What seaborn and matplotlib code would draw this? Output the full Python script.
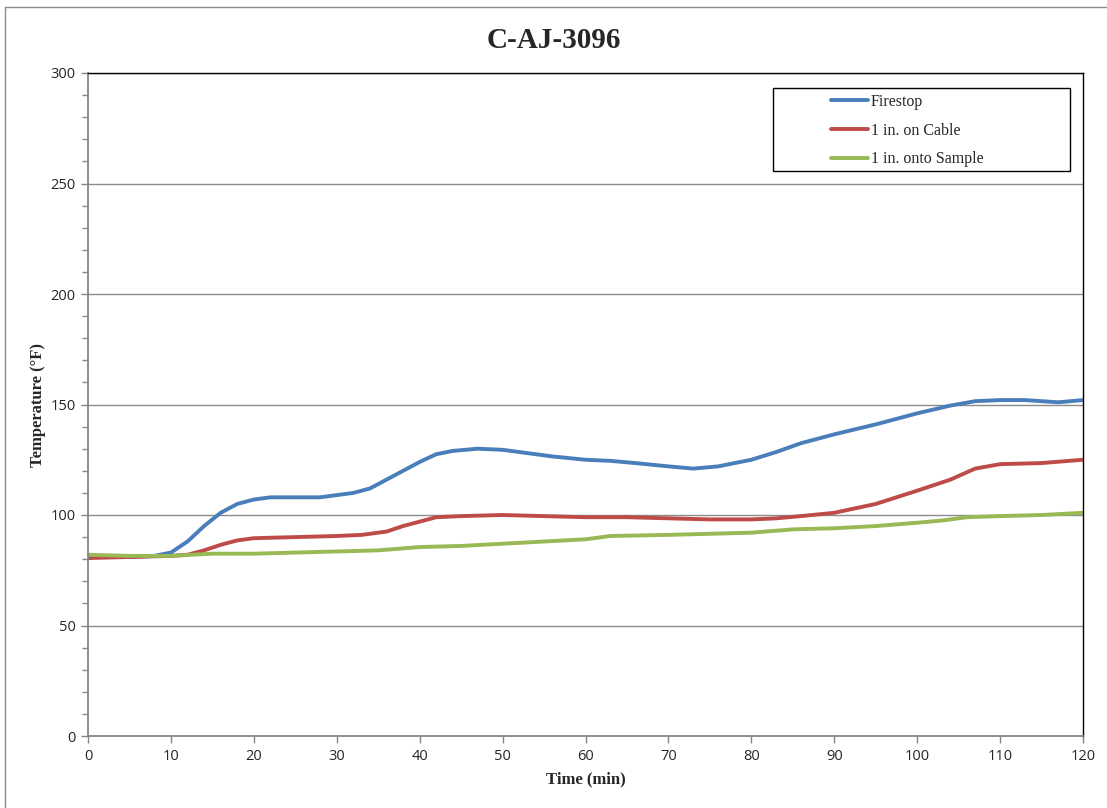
import matplotlib
matplotlib.use('Agg')
import matplotlib.pyplot as plt
import seaborn as sns
import pandas as pd
from matplotlib.ticker import MultipleLocator
from matplotlib.lines import Line2D
from matplotlib.patches import Rectangle

# readings taken off the chart
t_fire = [0, 5, 8, 10, 12, 14, 16, 18, 20, 22, 25, 28, 30, 32, 34, 36, 38, 40, 42, 44, 47, 50, 53, 56, 60,
          63, 66, 70, 73, 76, 80, 83, 86, 90, 95, 100, 104, 107, 110, 113, 117, 120]
firestop = [81, 81, 81.5, 83, 88, 95, 101, 105, 107, 108, 108, 108, 109, 110, 112, 116, 120, 124, 127.5, 129,
            130, 129.5, 128, 126.5, 125, 124.5, 123.5, 122, 121, 122, 125, 128.5, 132.5, 136.5, 141, 146,
            149.5, 151.5, 152, 152, 151, 152]

t_cable = [0, 5, 10, 12, 14, 16, 18, 20, 25, 30, 33, 36, 38, 40, 42, 45, 50, 55, 60, 65, 70, 75, 80, 83, 86,
           90, 95, 100, 104, 107, 110, 115, 120]
cable = [80.5, 81, 81.5, 82, 84, 86.5, 88.5, 89.5, 90, 90.5, 91, 92.5, 95, 97, 99, 99.5, 100, 99.5, 99, 99,
         98.5, 98, 98, 98.5, 99.5, 101, 105, 111, 116, 121, 123, 123.5, 125]

t_sample = [0, 5, 10, 15, 20, 30, 35, 40, 45, 50, 55, 60, 63, 70, 80, 85, 90, 95, 100, 103, 106, 110, 115, 120]
sample = [82, 81.5, 81.5, 82.5, 82.5, 83.5, 84, 85.5, 86, 87, 88, 89, 90.5, 91, 92, 93.5, 94, 95, 96.5, 97.5,
          99, 99.5, 100, 101]

labels = ['Firestop', '1 in. on Cable', '1 in. onto Sample']
colors = ['#4a7ebb', '#be4b48', '#98b954']

df = pd.concat([
    pd.DataFrame({'time': t_fire, 'temp': firestop, 'series': labels[0]}),
    pd.DataFrame({'time': t_cable, 'temp': cable, 'series': labels[1]}),
    pd.DataFrame({'time': t_sample, 'temp': sample, 'series': labels[2]}),
])

sns.set_style('white')
serif = ['Liberation Serif', 'DejaVu Serif']
sans = ['Open Sans', 'DejaVu Sans']

W, H = 1107, 808
fig = plt.figure(figsize=(W/100, H/100), dpi=100)
ax = fig.add_axes([88/W, 1 - 736/H, (1083 - 88)/W, (736 - 73)/H])

sns.lineplot(data=df, x='time', y='temp', hue='series', palette=colors, hue_order=labels,
             linewidth=2.8, ax=ax, legend=False, sort=True)

ax.set_xlim(0, 120)
ax.set_ylim(0, 300)
ax.xaxis.set_major_locator(MultipleLocator(10))
ax.yaxis.set_major_locator(MultipleLocator(50))
ax.yaxis.set_minor_locator(MultipleLocator(10))
ax.grid(axis='y', which='major', color='#8c8c8c', linewidth=1)
ax.set_axisbelow(True)

for s in ['left', 'bottom']:
    ax.spines[s].set_color('#868686')
    ax.spines[s].set_linewidth(1.3)
for s in ['top', 'right']:
    ax.spines[s].set_color('black')
    ax.spines[s].set_linewidth(1)

ax.tick_params(axis='both', which='major', direction='out', length=5, width=1, color='#868686',
               labelsize=10.5, pad=4, left=True, bottom=True)
ax.tick_params(axis='y', which='minor', direction='out', length=4, width=1, color='#868686', left=True)
for lab in ax.get_xticklabels() + ax.get_yticklabels():
    lab.set_family(sans)

ax.set_xlabel('Time (min)', family=serif, fontsize=12, fontweight='bold', labelpad=6)
ax.set_ylabel('Temperature (°F)', family=serif, fontsize=12, fontweight='bold', labelpad=3)
fig.text(0.5, 1 - 40/H, 'C-AJ-3096', ha='center', va='center', family=serif, fontsize=21,
         fontweight='bold')

# legend: box drawn separately, entries without frame
fig.add_artist(Rectangle((773/W, 1 - 171/H), (1070 - 773)/W, (171 - 88)/H, transform=fig.transFigure,
                         facecolor='white', edgecolor='black', linewidth=1, zorder=5))
handles = [Line2D([0], [0], color=c, linewidth=2.8) for c in colors]
leg = fig.legend(handles, labels, loc='upper left', bbox_to_anchor=(826/W, 1 - 89/H),
                 frameon=False, prop={'family': serif, 'size': 11.5}, handlelength=2.3,
                 borderpad=0.3, labelspacing=0.8, handletextpad=0.2, borderaxespad=0)
leg.set_zorder(6)

# chart area border (left and top)
fig.add_artist(Line2D([5/W, 5/W], [0, 1 - 7/H], color='#8c8c8c', linewidth=1,
                      transform=fig.transFigure))
fig.add_artist(Line2D([5/W, 1], [1 - 7/H, 1 - 7/H], color='#8c8c8c', linewidth=1,
                      transform=fig.transFigure))

fig.savefig('out.png', dpi=100)
